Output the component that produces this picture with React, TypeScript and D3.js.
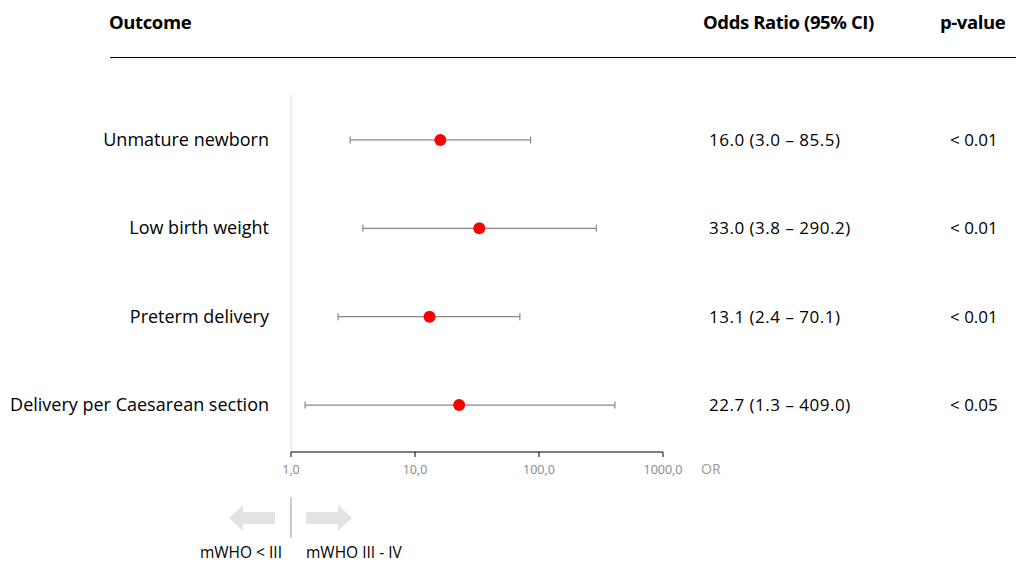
import * as d3 from "d3"

const outcomes = ["Unmature newborn", "Low birth weight", "Preterm delivery", "Delivery per Caesarean section"]
const oddsRatios = [16.0, 33.0, 13.1, 22.7]
const lowerCI = [3.0, 3.8, 2.4, 1.3]
const upperCI = [85.5, 290.2, 70.1, 409.0]
const pValues = ["< 0.01", "< 0.01", "< 0.01", "< 0.05"]
const ticks = [1, 10, 100, 1000]

const W = 1016
const H = 563
const font = "'Open Sans', 'Noto Sans', sans-serif"

export default function App() {
  const x = d3.scaleLog().domain([1, 1000]).range([291, 663])
  const y = d3.scaleBand().domain(outcomes).range([95, 452]).paddingOuter(0.02)
  const cy = (o: string) => (y(o) as number) + y.bandwidth() / 2 - 1
  const fmt = (v: number) => v.toFixed(1)
  const tickFmt = (v: number) => v.toFixed(1).replace(".", ",")
  const axisY = 452

  return (
    <svg width={W} height={H} style={{ position: "absolute", left: 0, top: 0, background: "#fff" }} fontFamily={font}>
      {/* header */}
      <text x={109} y={29} fontSize={18.5} fontWeight={700} letterSpacing={-0.4}>Outcome</text>
      <text x={703} y={29} fontSize={18.5} fontWeight={700} letterSpacing={-0.4}>Odds Ratio (95% CI)</text>
      <text x={940} y={29} fontSize={18.5} fontWeight={700} letterSpacing={-0.4}>p-value</text>
      <line x1={110} x2={1016} y1={57.5} y2={57.5} stroke="#000" strokeWidth={1} />

      {/* reference line */}
      <line x1={x(1)} x2={x(1)} y1={95} y2={axisY} stroke="#e6e6e6" strokeWidth={1.5} />

      {outcomes.map((o, i) => {
        const yy = cy(o)
        return (
          <g key={o}>
            <text x={269} y={yy + 6} fontSize={18} textAnchor="end">{o}</text>
            <line x1={x(lowerCI[i])} x2={x(upperCI[i])} y1={yy} y2={yy} stroke="#888" strokeWidth={1.2} />
            <line x1={x(lowerCI[i])} x2={x(lowerCI[i])} y1={yy - 3.5} y2={yy + 3.5} stroke="#888" strokeWidth={1.2} />
            <line x1={x(upperCI[i])} x2={x(upperCI[i])} y1={yy - 3.5} y2={yy + 3.5} stroke="#888" strokeWidth={1.2} />
            <circle cx={x(oddsRatios[i])} cy={yy} r={6} fill="#ff0000" />
            <text x={709} y={yy + 6} fontSize={17} letterSpacing={0.5}>
              {`${fmt(oddsRatios[i])} (${fmt(lowerCI[i])} – ${fmt(upperCI[i])})`}
            </text>
            <text x={950} y={yy + 6} fontSize={17}>{pValues[i]}</text>
          </g>
        )
      })}

      {/* x axis */}
      <line x1={x(1)} x2={x(1000)} y1={axisY} y2={axisY} stroke="#000" strokeWidth={1} />
      {ticks.map((t) => (
        <g key={t}>
          <line x1={x(t)} x2={x(t)} y1={axisY} y2={axisY + 5} stroke="#000" strokeWidth={1} />
          <text x={x(t)} y={axisY + 22} fontSize={12.5} fill="#888" textAnchor="middle">{tickFmt(t)}</text>
        </g>
      ))}
      <text x={701} y={axisY + 22} fontSize={14} fill="#999">OR</text>

      {/* direction arrows */}
      <line x1={x(1)} x2={x(1)} y1={497} y2={538} stroke="#999" strokeWidth={1} />
      <path d="M275,512 L243,512 L243,505 L229,518 L243,531 L243,524 L275,524 Z" fill="#e3e3e3" />
      <path d="M306,512 L338,512 L338,505 L352,518 L338,531 L338,524 L306,524 Z" fill="#e3e3e3" />
      <text x={282} y={558} fontSize={15.5} textAnchor="end">mWHO &lt; III</text>
      <text x={306} y={558} fontSize={15.5}>mWHO III - IV</text>
    </svg>
  )
}
